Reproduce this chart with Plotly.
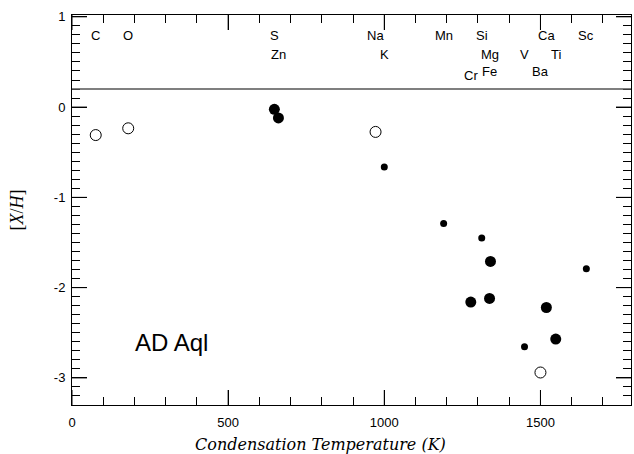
import plotly.graph_objects as go

# Elements, condensation temperatures (K) and abundances [X/H]
elements = ["C", "O", "S", "Zn", "Na", "K", "Mn", "Si", "Cr", "Fe", "Mg", "V", "Ca", "Ti", "Ba", "Sc"]
tcond    = [76, 180, 648, 661, 972, 1000, 1190, 1312, 1277, 1337, 1340, 1449, 1519, 1549, 1500, 1647]
abund    = [-0.31, -0.235, -0.025, -0.12, -0.275, -0.665, -1.29, -1.45, -2.16, -2.12, -1.71, -2.655, -2.22, -2.57, -2.94, -1.79]
kind     = ["open", "open", "big", "big", "open", "small", "small", "small", "big", "big", "big", "small", "big", "big", "open", "small"]
label_row = [1, 1, 1, 2, 1, 2, 1, 1, 3, 3, 2, 2, 1, 2, 3, 1]

x_ticks = [0, 500, 1000, 1500]
y_ticks = [-3, -2, -1, 0, 1]
x_range = [0, 1790]
y_range = [-3.3, 1.02]
star_name = "AD Aql"
row_y = {1: 0.79, 2: 0.585, 3: 0.39}

fig = go.Figure()
styles = {
    "open": dict(size=11, color="white", line=dict(color="black", width=1)),
    "big": dict(size=11, color="black", line=dict(color="black", width=0)),
    "small": dict(size=7, color="black", line=dict(color="black", width=0)),
}
for k, st in styles.items():
    xs = [t for t, kk in zip(tcond, kind) if kk == k]
    ys = [a for a, kk in zip(abund, kind) if kk == k]
    fig.add_trace(go.Scatter(x=xs, y=ys, mode="markers", marker=dict(symbol="circle", **st),
                             showlegend=False, hoverinfo="skip"))

for el, t, r in zip(elements, tcond, label_row):
    yy = row_y[r] - (0.035 if el == "Cr" else 0)
    fig.add_annotation(x=t, y=yy, text=el, showarrow=False, xanchor="center", yanchor="middle",
                       font=dict(family="Liberation Sans, Arial", size=13, color="black"))

fig.add_shape(type="line", xref="paper", x0=0, x1=1, y0=0.2, y1=0.2,
              line=dict(color="#555555", width=1.5))
fig.add_annotation(x=320, y=-2.61, text=star_name, showarrow=False, xanchor="center", yanchor="middle",
                   font=dict(family="Liberation Sans, Arial", size=24, color="black"))

fig.add_annotation(xref="paper", yref="paper", x=0.445, y=-0.1, yanchor="middle", xanchor="center",
                   text="Condensation Temperature (K)", showarrow=False,
                   font=dict(family="DejaVu Serif", size=16, color="black", style="italic"))

# long major tick marks, pointing into the plot from all four edges (pixel-sized)
major_len = 15
tick_line = dict(color="black", width=1)
for xv in x_ticks:
    for edge, sign in [(0, 1), (1, -1)]:
        fig.add_shape(type="line", xref="x", yref="paper", ysizemode="pixel", yanchor=edge,
                      x0=xv, x1=xv, y0=0, y1=sign * major_len, line=tick_line, layer="above")
for yv in y_ticks:
    for edge, sign in [(0, 1), (1, -1)]:
        fig.add_shape(type="line", xref="paper", yref="y", xsizemode="pixel", xanchor=edge,
                      y0=yv, y1=yv, x0=0, x1=sign * major_len, line=tick_line, layer="above")

axis_common = dict(
    showline=True, linecolor="black", linewidth=1, mirror="ticks",
    ticks="inside", ticklen=major_len, tickwidth=1, tickcolor="black",
    showgrid=False, zeroline=False, tickmode="array",
    tickfont=dict(family="Liberation Sans, Arial", size=13, color="black"),
)

fig.update_layout(
    xaxis=dict(range=x_range, tickvals=x_ticks, ticktext=[str(v) for v in x_ticks], ticklabelstandoff=5,
               minor=dict(ticks="inside", ticklen=8, tickmode="linear", tick0=0, dtick=100,
                          tickcolor="black", tickwidth=1, showgrid=False),
               **axis_common),
    yaxis=dict(range=y_range, tickvals=y_ticks, ticktext=[str(v) for v in y_ticks], ticklabelstandoff=3,
               minor=dict(ticks="inside", ticklen=8, tickmode="linear", tick0=0, dtick=0.1,
                          tickcolor="black", tickwidth=1, showgrid=False),
               title=dict(text="[<i>X</i>/<i>H</i>]", standoff=25,
                          font=dict(family="Liberation Serif, Times New Roman", size=18, color="black")),
               **axis_common),
    width=634, height=454, margin=dict(l=72, r=3, t=15, b=49),
    plot_bgcolor="white", paper_bgcolor="white",
)
fig.write_html("out.html")
